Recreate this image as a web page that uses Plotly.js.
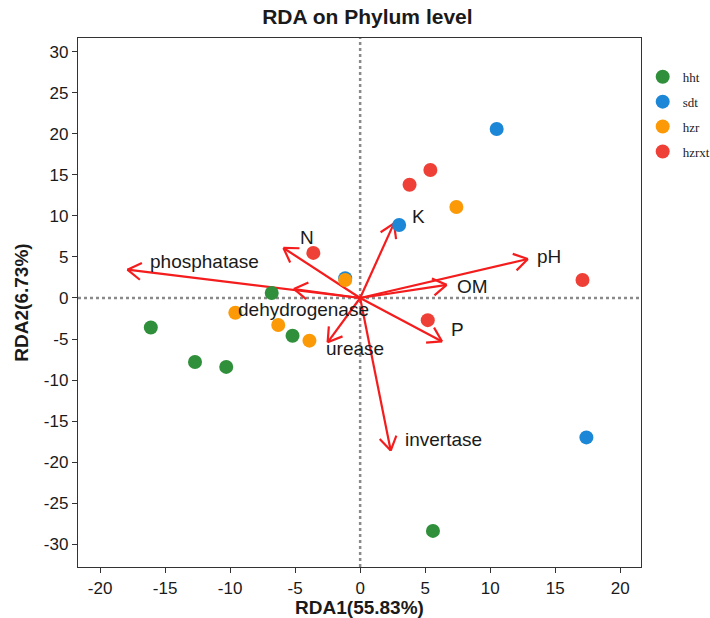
<!DOCTYPE html>
<html>
<head>
<meta charset="utf-8">
<script src="https://cdn.plot.ly/plotly-3.0.1.min.js"></script>
<style>html,body{margin:0;padding:0;background:#fff;}#chart{width:710px;height:618px;}</style>
</head>
<body>
<div id="chart"></div>
<script>
// ---- data ----
const groups = ['hht', 'sdt', 'hzr', 'hzrxt'];
const hhtX = [-6.8, -16.1, -12.7, -10.3, -5.2, 5.6];
const hhtY = [0.6, -3.6, -7.8, -8.4, -4.6, -28.4];
const sdtX = [10.5, 3.0, 17.4, -1.15];
const sdtY = [20.6, 8.9, -17.0, 2.4];
const hzrX = [7.4, -1.15, -9.6, -6.3, -3.9];
const hzrY = [11.1, 2.2, -1.8, -3.3, -5.2];
const hzrxtX = [5.4, 3.8, -3.6, 17.1, 5.2];
const hzrxtY = [15.6, 13.8, 5.5, 2.2, -2.7];

const envNames = ['phosphatase', 'N', 'dehydrogenase', 'urease', 'K', 'pH', 'OM', 'P', 'invertase'];
const envX = [-17.9, -5.9, -5.1, -2.5, 2.6, 12.9, 6.65, 6.3, 2.35];
const envY = [3.45, 6.1, 1.1, -5.4, 9.1, 4.75, 1.6, -5.3, -18.6];
const envLabelX = [-12.0, -4.1, -4.35, -0.4, 4.5, 14.5, 8.65, 7.5, 6.4];
const envLabelY = [4.4, 7.4, -1.35, -6.2, 9.9, 5.1, 1.45, -3.9, -17.3];

const xTicks = [-20, -15, -10, -5, 0, 5, 10, 15, 20];
const yTicks = [-30, -25, -20, -15, -10, -5, 0, 5, 10, 15, 20, 25, 30];

// ---- styling ----
const colors = ['#2f8f3a', '#1b87d6', '#fb9a06', '#ee4036'];
const arrowColor = '#f41c1c';
const W = 710, H = 618;
const margin = {l: 78, r: 69, t: 38, b: 51};
const xRange = [-21.7, 21.6];
const yRange = [-32.8, 31.7];
const plotW = W - margin.l - margin.r;
const plotH = H - margin.t - margin.b;
const pxPerX = plotW / (xRange[1] - xRange[0]);
const pxPerY = plotH / (yRange[1] - yRange[0]);

// arrow shafts and V heads (computed in pixel space, converted back to data)
const ax = [], ay = [];
const headLen = 16, headAng = 32 * Math.PI / 180;
for (let i = 0; i < envNames.length; i++) {
  ax.push(0, envX[i], null);
  ay.push(0, envY[i], null);
  const dxp = envX[i] * pxPerX, dyp = envY[i] * pxPerY;
  const L = Math.hypot(dxp, dyp);
  const ux = dxp / L, uy = dyp / L;
  for (const s of [-1, 1]) {
    const c = Math.cos(s * headAng), sn = Math.sin(s * headAng);
    const rx = -(ux * c - uy * sn), ry = -(ux * sn + uy * c);
    ax.push(envX[i], envX[i] + rx * headLen / pxPerX, null);
    ay.push(envY[i], envY[i] + ry * headLen / pxPerY, null);
  }
}

const traces = [{
  type: 'scatter', mode: 'lines', x: ax, y: ay,
  line: {color: arrowColor, width: 2.2}, showlegend: false, hoverinfo: 'skip'
}];
const gx = [hhtX, sdtX, hzrX, hzrxtX], gy = [hhtY, sdtY, hzrY, hzrxtY];
for (let g = 0; g < groups.length; g++) {
  traces.push({
    type: 'scatter', mode: 'markers', name: groups[g], x: gx[g], y: gy[g],
    marker: {color: colors[g], size: 14, line: {width: 0}},
    legendgroup: groups[g]
  });
}

const annotations = envNames.map((n, i) => ({
  x: envLabelX[i], y: envLabelY[i], xref: 'x', yref: 'y', text: n, showarrow: false,
  xanchor: 'center', yanchor: 'middle',
  font: {family: 'Liberation Sans, Arial, sans-serif', size: 19, color: '#1a1a1a'}
}));

const layout = {
  width: W, height: H,
  margin: Object.assign({autoexpand: false, pad: 0}, margin),
  paper_bgcolor: '#fff', plot_bgcolor: '#fff',
  font: {family: 'Liberation Sans, Arial, sans-serif', color: '#1a1a1a'},
  title: {
    text: '<b>RDA on Phylum level</b>', font: {size: 21, color: '#1a1a1a'},
    xref: 'paper', x: 0.514, xanchor: 'center', yref: 'container', y: 1 - 17 / H, yanchor: 'middle'
  },
  xaxis: {
    range: xRange, tickvals: xTicks, ticktext: xTicks.map(String),
    ticks: 'outside', ticklen: 5, tickwidth: 1, tickcolor: '#333',
    showline: true, mirror: true, linecolor: '#333', linewidth: 1.2,
    showgrid: false, zeroline: false,
    tickfont: {size: 17, color: '#1a1a1a'},
    title: {text: '<b>RDA1(55.83%)</b>', font: {size: 19, color: '#1a1a1a'}, standoff: 2}
  },
  yaxis: {
    range: yRange, tickvals: yTicks, ticktext: yTicks.map(String),
    ticks: 'outside', ticklen: 5, tickwidth: 1, tickcolor: '#333',
    showline: true, mirror: true, linecolor: '#333', linewidth: 1.2,
    showgrid: false, zeroline: false,
    tickfont: {size: 17, color: '#1a1a1a'},
    title: {text: '<b>RDA2(6.73%)</b>', font: {size: 19, color: '#1a1a1a'}, standoff: 10}
  },
  shapes: [
    {type: 'line', xref: 'x', yref: 'paper', x0: 0, x1: 0, y0: 0, y1: 1,
     line: {color: '#8a8a8a', width: 2.5, dash: 'dot'}, layer: 'below'},
    {type: 'line', xref: 'paper', yref: 'y', x0: 0, x1: 1, y0: 0, y1: 0,
     line: {color: '#8a8a8a', width: 2.5, dash: 'dot'}, layer: 'below'}
  ],
  annotations: annotations,
  legend: {
    x: 1.003, xanchor: 'left', y: 0.955, yanchor: 'top',
    font: {family: 'Liberation Serif, Times New Roman, serif', size: 13, color: '#222'},
    bgcolor: 'rgba(0,0,0,0)', borderwidth: 0, tracegroupgap: 5, itemclick: false
  },
  showlegend: true
};

Plotly.newPlot('chart', traces, layout, {displayModeBar: false, staticPlot: true});
</script>
</body>
</html>
